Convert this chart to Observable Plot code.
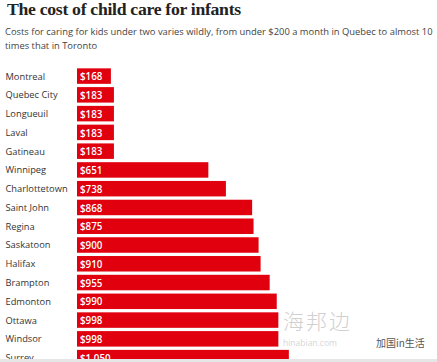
<!DOCTYPE html>
<html>
<head>
<meta charset="utf-8">
<script src="https://cdn.jsdelivr.net/npm/d3@7"></script>
<script src="https://cdn.jsdelivr.net/npm/@observablehq/plot@0.6"></script>
<style>
  html, body { margin: 0; padding: 0; background: #fff; }
  #wrap { position: relative; width: 437px; height: 359px; overflow: hidden; background: #fff; }
  #title { position: absolute; left: 7px; top: -1px; margin: 0; font-family: "Liberation Serif", serif; font-weight: 700; font-size: 17.7px; line-height: 20px; letter-spacing: -0.3px; color: #222; white-space: nowrap; }
  #sub { position: absolute; left: 5px; top: 25px; width: 437px; margin: 0; font-family: "Open Sans", sans-serif; font-size: 9.4px; line-height: 13.5px; color: #444; white-space: nowrap; }
  #chart { position: absolute; left: 0; top: 60px; }
  #band { width: 437px; height: 3px; background: #e6e6e6; }
  .wm { position: absolute; font-family: "Noto Sans CJK SC", sans-serif; white-space: nowrap; }
</style>
</head>
<body>
<div id="wrap">
  <h1 id="title">The cost of child care for infants</h1>
  <p id="sub">Costs for caring for kids under two varies wildly, from under $200 a month in Quebec to almost 10<br>times that in Toronto</p>
  <div id="chart"></div>
  <div class="wm" style="left:283px;top:310px;font-size:21px;line-height:21px;letter-spacing:2px;color:#d0d0d0;font-weight:300;">海邦边</div>
  <div class="wm" style="left:283px;top:338px;font-size:8.5px;line-height:9px;color:#d6d6d6;font-family:'Open Sans',sans-serif;">hinabian.com</div>
  <div class="wm" style="left:376px;top:337px;font-size:10px;line-height:11px;color:#555;">加国in生活</div>
</div>
<div id="band"></div>
<script>
const cities = ["Montreal", "Quebec City", "Longueuil", "Laval", "Gatineau", "Winnipeg", "Charlottetown", "Saint John", "Regina", "Saskatoon", "Halifax", "Brampton", "Edmonton", "Ottawa", "Windsor", "Surrey"];
const costs = [168, 183, 183, 183, 183, 651, 738, 868, 875, 900, 910, 955, 990, 998, 998, 1050];

const data = cities.map((city, i) => ({city, cost: costs[i]}));
const fmt = d3.format(",");

const chart = Plot.plot({
  width: 437,
  height: 307,
  marginLeft: 77,
  marginRight: 17,
  marginTop: 6.7,
  marginBottom: 0,
  style: {fontFamily: "'Open Sans', sans-serif", background: "transparent"},
  x: {domain: [0, 1700], axis: null},
  y: {domain: cities, paddingInner: 0.175, paddingOuter: 0.0875, round: false, axis: null},
  marks: [
    Plot.barX(data, {x: "cost", y: "city", fill: "#e0000e"}),
    Plot.text(data, {y: "city", text: "city", frameAnchor: "left", textAnchor: "start", dx: -72, fill: "#333", fontSize: 9.3}),
    Plot.text(data, {x: 0, y: "city", text: d => "$" + fmt(d.cost), textAnchor: "start", dx: 2.5, dy: 0.5, fill: "#fff", fontSize: 9.8, fontWeight: 600})
  ]
});
document.getElementById("chart").appendChild(chart);
</script>
</body>
</html>
